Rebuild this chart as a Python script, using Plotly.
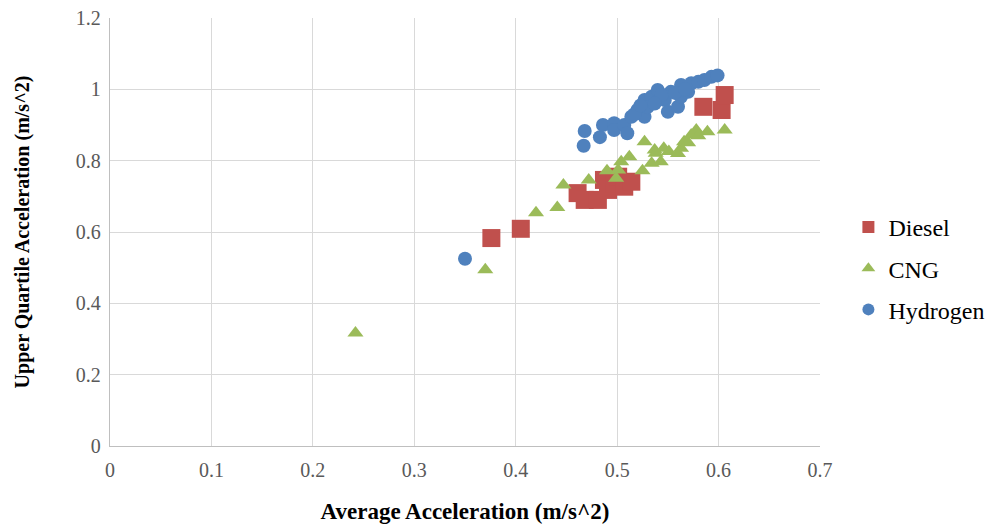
import plotly.graph_objects as go

# Diesel
diesel_x = [0.376, 0.405, 0.461, 0.468, 0.481, 0.487, 0.491, 0.497, 0.501, 0.507, 0.514, 0.585, 0.603, 0.606]
diesel_y = [0.583, 0.609, 0.709, 0.690, 0.690, 0.746, 0.718, 0.737, 0.755, 0.727, 0.741, 0.951, 0.942, 0.984]

# CNG
cng_x = [0.242, 0.370, 0.420, 0.441, 0.447, 0.472, 0.490, 0.499, 0.501, 0.504, 0.512, 0.525,
         0.527, 0.534, 0.537, 0.538, 0.543, 0.546, 0.551, 0.560, 0.563, 0.566, 0.570, 0.573,
         0.578, 0.580, 0.589, 0.606]
cng_y = [0.317, 0.494, 0.654, 0.669, 0.732, 0.746, 0.772, 0.751, 0.774, 0.797, 0.811, 0.772,
         0.853, 0.793, 0.830, 0.821, 0.797, 0.835, 0.826, 0.820, 0.835, 0.853, 0.850, 0.872,
         0.886, 0.870, 0.881, 0.886]

# Hydrogen
h2_x = [0.350, 0.467, 0.468, 0.483, 0.486, 0.497, 0.497, 0.507, 0.510, 0.514, 0.520, 0.527,
        0.527, 0.534, 0.540, 0.547, 0.550, 0.553, 0.560, 0.563, 0.563, 0.570, 0.573, 0.580,
        0.586, 0.593, 0.599, 0.530, 0.517, 0.544, 0.557, 0.537, 0.523, 0.567]
h2_y = [0.525, 0.842, 0.883, 0.866, 0.900, 0.905, 0.886, 0.900, 0.877, 0.923, 0.942, 0.970,
        0.923, 0.979, 0.998, 0.970, 0.937, 0.993, 0.951, 1.012, 0.979, 0.993, 1.017, 1.021,
        1.026, 1.035, 1.039, 0.950, 0.930, 0.985, 0.990, 0.960, 0.955, 1.000]

SERIF = "Liberation Serif"

fig = go.Figure()
fig.add_trace(go.Scatter(x=diesel_x, y=diesel_y, mode="markers", name="Diesel", legendgroup="d",
                         marker=dict(symbol="square", size=18, color="#C0504D")))
fig.add_trace(go.Scatter(x=cng_x, y=cng_y, mode="markers", name="CNG", legendgroup="c",
                         marker=dict(symbol="triangle-up", size=14, color="#9BBB59")))
fig.add_trace(go.Scatter(x=h2_x, y=h2_y, mode="markers", name="Hydrogen", legendgroup="h",
                         marker=dict(symbol="circle", size=14, color="#4F81BD")))

fig.update_layout(
    width=1006, height=524,
    margin=dict(l=110, r=186, t=18, b=78),
    paper_bgcolor="white", plot_bgcolor="white",
    font=dict(family=SERIF, size=20, color="#595959"),
    showlegend=True,
    legend=dict(x=1.04, y=0.415, xanchor="left", yanchor="middle",
                font=dict(family=SERIF, size=24, color="black"),
                tracegroupgap=7, itemsizing="constant"),
    xaxis=dict(range=[0, 0.7], dtick=0.1, tick0=0, showgrid=True, gridcolor="#d9d9d9",
               gridwidth=1.3, zeroline=False, showline=True, linecolor="#bfbfbf", linewidth=1.3,
               ticks="", ticklen=0, ticklabelstandoff=6, automargin=False,
               title=dict(text="<b>Average Acceleration (m/s^2)</b>", standoff=22,
                          font=dict(family=SERIF, size=23, color="black"))),
    yaxis=dict(range=[0, 1.2], dtick=0.2, tick0=0, showgrid=True, gridcolor="#d9d9d9",
               gridwidth=1.3, zeroline=False, showline=True, linecolor="#bfbfbf", linewidth=1.3,
               ticks="", ticklen=0, ticklabelstandoff=4, automargin=False,
               title=dict(text="<b>Upper Quartile Acceleration (m/s^2)</b>", standoff=40,
                          font=dict(family=SERIF, size=20, color="black"))),
)

fig.write_html("out.html")
